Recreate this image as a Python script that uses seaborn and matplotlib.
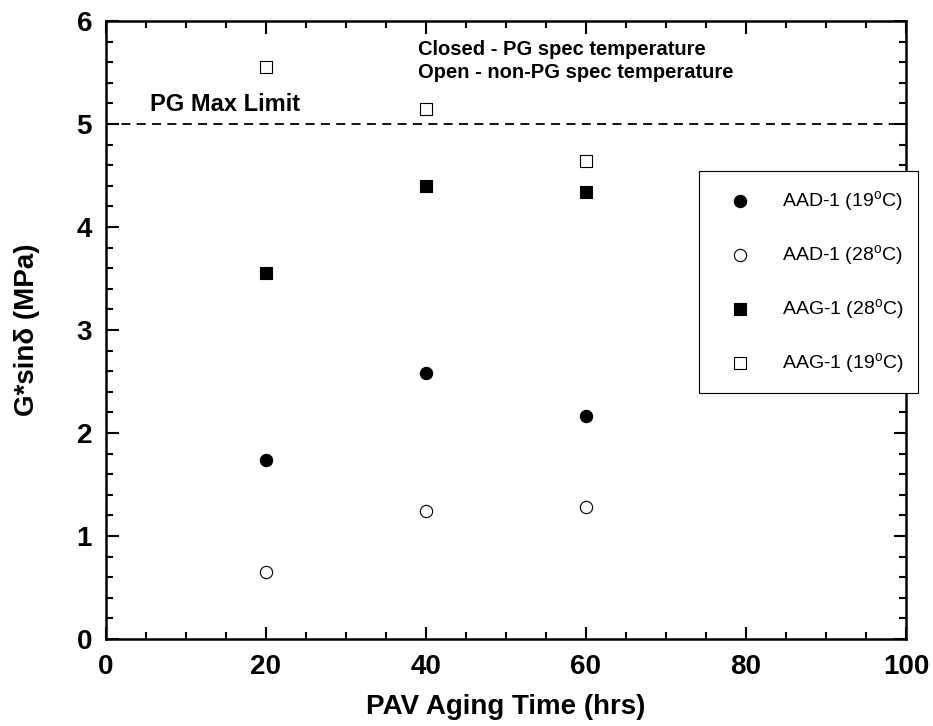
import matplotlib
matplotlib.use("Agg")
import matplotlib.pyplot as plt
import seaborn as sns
import pandas as pd
from matplotlib.ticker import MultipleLocator

sns.set_theme(style="white")
plt.rcParams['font.family'] = ['Liberation Sans', 'DejaVu Sans']
plt.rcParams['mathtext.default'] = 'regular'
for k in ['text.color', 'axes.labelcolor', 'xtick.color', 'ytick.color']:
    plt.rcParams[k] = 'black'

aging_time = [20, 40, 60]
aad1_19 = [1.74, 2.58, 2.17]
aad1_28 = [0.65, 1.24, 1.28]
aag1_28 = [3.55, 4.40, 4.34]
aag1_19 = [5.55, 5.15, 4.64]
series_labels = ["AAD-1 (19$^{o}$C)", "AAD-1 (28$^{o}$C)", "AAG-1 (28$^{o}$C)", "AAG-1 (19$^{o}$C)"]
pg_limit = 5.0

fig = plt.figure(figsize=(9.33, 7.26), dpi=100)
ax = fig.add_axes([0.1136, 0.1198, 0.8574, 0.8512])

styles = [
    (aad1_19, 'o', 'black'),
    (aad1_28, 'o', 'white'),
    (aag1_28, 's', 'black'),
    (aag1_19, 's', 'white'),
]
for (vals, mk, fc), lab in zip(styles, series_labels):
    df = pd.DataFrame({"t": aging_time, "g": vals})
    sns.scatterplot(data=df, x="t", y="g", marker=mk, s=78, facecolor=fc,
                    edgecolor='black', linewidth=0.8, ax=ax, label=lab, zorder=3)

ax.axhline(pg_limit, color='black', linestyle=(0, (5, 3.5)), linewidth=1.3)
ax.text(5.5, 5.08, "PG Max Limit", fontsize=17, fontweight='bold', ha='left', va='bottom')
ax.text(39, 5.72, "Closed - PG spec temperature", fontsize=14.5, fontweight='bold', ha='left', va='center')
ax.text(39, 5.50, "Open - non-PG spec temperature", fontsize=14.5, fontweight='bold', ha='left', va='center')

ax.set_xlim(0, 100)
ax.set_ylim(0, 6)
ax.xaxis.set_major_locator(MultipleLocator(20))
ax.xaxis.set_minor_locator(MultipleLocator(5))
ax.yaxis.set_major_locator(MultipleLocator(1))
ax.yaxis.set_minor_locator(MultipleLocator(0.2))
ax.tick_params(which='both', direction='in', top=True, right=True, bottom=True, left=True, width=1.5, color='black')
ax.tick_params(which='major', length=9, labelsize=20)
ax.tick_params(which='minor', length=5)
ax.tick_params(axis='x', which='major', pad=11)
ax.tick_params(axis='y', which='major', pad=10)
for lab in ax.get_xticklabels() + ax.get_yticklabels():
    lab.set_fontweight('bold')
for sp in ax.spines.values():
    sp.set_visible(True)
    sp.set_color('black')
    sp.set_linewidth(1.8)

ax.set_xlabel("PAV Aging Time (hrs)", fontsize=20, fontweight='bold', labelpad=10)
ax.set_ylabel("G*sinδ (MPa)", fontsize=20, fontweight='bold', labelpad=26)

leg = ax.legend(loc='upper left', bbox_to_anchor=(0.741, 0.406, 0.274, 0.351), mode='expand',
                frameon=True, fancybox=False, framealpha=1.0,
                fontsize=14, labelspacing=1.55, borderpad=0.9, handletextpad=1.0,
                handlelength=2.4, markerscale=1.0, borderaxespad=0)
leg.get_frame().set_edgecolor('black')
leg.get_frame().set_linewidth(0.8)
leg.set_zorder(5)

fig.savefig("out.png", dpi=100)
